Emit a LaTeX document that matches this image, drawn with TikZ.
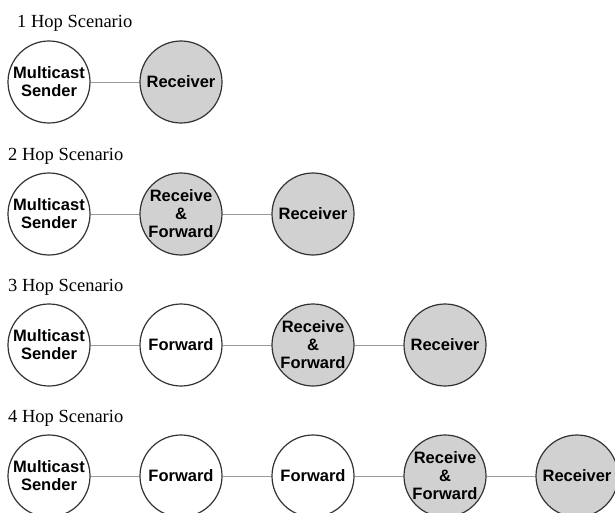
\documentclass[tikz,border=0pt]{standalone}
\usepackage{fontspec}
\setmainfont{Liberation Serif}
\setsansfont{Liberation Sans}
\usepackage{tikz}
\usetikzlibrary{shapes}

\begin{document}
\begin{tikzpicture}[x=1pt,y=-1pt,
    hop/.style={circle,draw=black!80,line width=1.2pt,fill=white,minimum size=82pt,
        inner sep=0pt,align=center,font=\sffamily\bfseries\fontsize{16.5}{18}\selectfont},
    rcv/.style={hop,fill=black!18},
    link/.style={draw=black!40,line width=0.9pt},
    title/.style={anchor=west,inner sep=0pt,font=\fontsize{18.5}{20}\selectfont}]
\useasboundingbox (0,0) rectangle (615,513);

% 1 hop
\node[title] at (17,23) (t1) {1 Hop Scenario};
\node[hop] at (49,82) (s1) {Multicast\\Sender};
\node[rcv] at (181,82) (r1) {Receiver};
\draw[link] (s1) -- (r1);

% 2 hop
\node[title] at (8,156) (t2) {2 Hop Scenario};
\node[hop] at (49,214) (s2) {Multicast\\Sender};
\node[rcv] at (181,214) (rf2) {Receive\\\&\\Forward};
\node[rcv] at (313,214) (r2) {Receiver};
\draw[link] (s2) -- (rf2);
\draw[link] (rf2) -- (r2);

% 3 hop
\node[title] at (8,287) (t3) {3 Hop Scenario};
\node[hop] at (49,345) (s3) {Multicast\\Sender};
\node[hop] at (181,345) (f3) {Forward};
\node[rcv] at (313,345) (rf3) {Receive\\\&\\Forward};
\node[rcv] at (445,345) (r3) {Receiver};
\draw[link] (s3) -- (f3);
\draw[link] (f3) -- (rf3);
\draw[link] (rf3) -- (r3);

% 4 hop
\node[title] at (8,418) (t4) {4 Hop Scenario};
\node[hop] at (49,476) (s4) {Multicast\\Sender};
\node[hop] at (181,476) (f4) {Forward};
\node[hop] at (313,476) (ff4) {Forward};
\node[rcv] at (445,476) (rf4) {Receive\\\&\\Forward};
\node[rcv] at (577,476) (r4) {Receiver};
\draw[link] (s4) -- (f4);
\draw[link] (f4) -- (ff4);
\draw[link] (ff4) -- (rf4);
\draw[link] (rf4) -- (r4);
\end{tikzpicture}
\end{document}
